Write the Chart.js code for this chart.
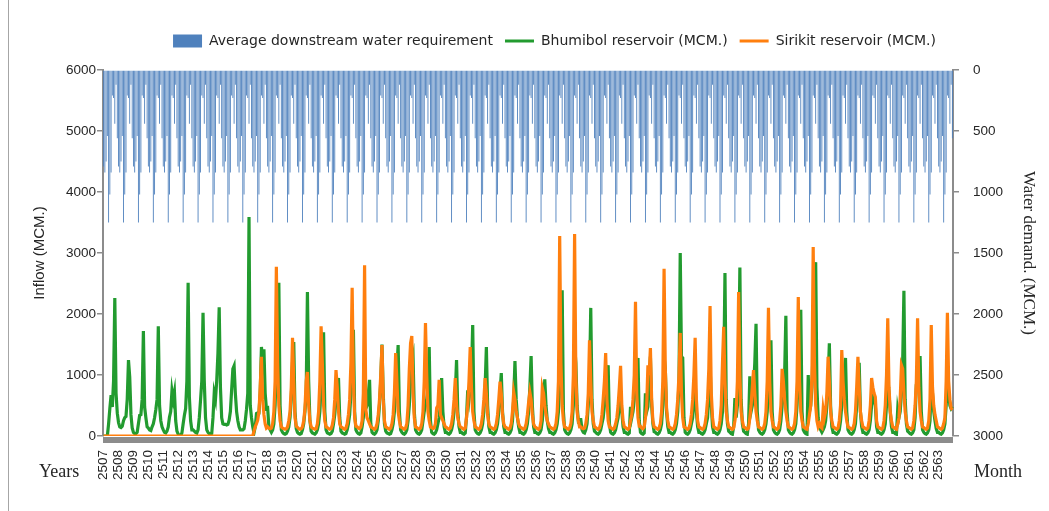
<!DOCTYPE html>
<html>
<head>
<meta charset="utf-8">
<title>Reservoir inflow and downstream water requirement</title>
<script src="https://cdn.jsdelivr.net/npm/chart.js@4.4.1/dist/chart.umd.min.js"></script>
<style>
    html, body { margin: 0; padding: 0; background: #fff; }
    #wrap { position: relative; width: 1049px; height: 511px; }
    #frame { position: absolute; left: 8px; top: 0; width: 1px; height: 511px; background: #a6a6a6; }
    canvas { position: absolute; left: 0; top: 0; }
</style>
</head>
<body>
<div id="wrap">
    <div id="frame"></div>
    <canvas id="inflowChart" width="1049" height="511"></canvas>
</div>
<script>
const years = [
    2507, 2508, 2509, 2510, 2511, 2512, 2513, 2514, 2515, 2516,
    2517, 2518, 2519, 2520, 2521, 2522, 2523, 2524, 2525, 2526,
    2527, 2528, 2529, 2530, 2531, 2532, 2533, 2534, 2535, 2536,
    2537, 2538, 2539, 2540, 2541, 2542, 2543, 2544, 2545, 2546,
    2547, 2548, 2549, 2550, 2551, 2552, 2553, 2554, 2555, 2556,
    2557, 2558, 2559, 2560, 2561, 2562, 2563
];
const months = ["Jan", "Feb", "Mar", "Apr", "May", "Jun", "Jul", "Aug", "Sep", "Oct", "Nov", "Dec"];

// average downstream requirement, same every year (MCM.)
const monthlyRequirement = [790, 840, 750, 540, 1250, 1020, 840, 210, 230, 440, 120, 560];

// monthly inflow, one row per year (MCM.)
const bhumibolInflow = [
    [0, 0, 0, 0, 200, 450, 670, 475, 900, 2260, 700, 375],
    [220, 150, 140, 160, 250, 300, 320, 600, 1245, 970, 350, 130],
    [60, 40, 40, 60, 200, 340, 350, 600, 1720, 475, 300, 150],
    [130, 100, 90, 150, 200, 300, 430, 600, 1800, 500, 250, 150],
    [100, 60, 50, 80, 150, 310, 400, 740, 600, 720, 250, 80],
    [30, 10, 0, 50, 200, 340, 450, 900, 2510, 640, 250, 100],
    [100, 80, 60, 50, 100, 300, 590, 900, 2020, 900, 300, 100],
    [60, 40, 30, 40, 300, 700, 600, 900, 1360, 2110, 800, 300],
    [200, 190, 190, 180, 190, 260, 400, 750, 1100, 1150, 700, 400],
    [250, 150, 100, 100, 100, 120, 250, 440, 700, 3590, 500, 300],
    [150, 50, 150, 370, 380, 380, 700, 1460, 1200, 1420, 700, 450],
    [460, 150, 100, 60, 100, 200, 500, 1200, 1500, 2510, 500, 100],
    [60, 40, 30, 40, 80, 150, 300, 600, 1200, 1540, 400, 120],
    [60, 40, 30, 40, 100, 200, 400, 700, 2360, 900, 250, 80],
    [50, 40, 30, 50, 100, 200, 400, 800, 1300, 1700, 400, 100],
    [50, 40, 30, 40, 80, 200, 350, 600, 800, 950, 300, 80],
    [50, 40, 30, 40, 100, 200, 350, 700, 1500, 1740, 400, 100],
    [60, 40, 30, 50, 150, 300, 700, 450, 500, 700, 920, 200],
    [60, 40, 30, 50, 100, 250, 500, 900, 1500, 700, 200, 80],
    [50, 40, 30, 40, 100, 200, 400, 700, 1100, 1490, 400, 100],
    [60, 40, 30, 50, 100, 250, 500, 900, 1200, 1300, 400, 100],
    [60, 40, 30, 50, 100, 250, 400, 500, 600, 800, 1460, 250],
    [60, 40, 30, 50, 100, 200, 300, 500, 950, 400, 150, 60],
    [60, 40, 30, 50, 100, 200, 400, 700, 1245, 400, 150, 60],
    [60, 40, 30, 50, 300, 750, 600, 800, 1000, 1820, 400, 100],
    [60, 40, 30, 50, 100, 200, 400, 800, 1460, 500, 150, 60],
    [60, 40, 30, 50, 100, 200, 400, 700, 1030, 400, 150, 60],
    [60, 40, 30, 50, 100, 250, 600, 1230, 600, 300, 150, 60],
    [60, 40, 30, 50, 100, 200, 400, 800, 1310, 500, 150, 60],
    [60, 40, 30, 50, 100, 250, 500, 930, 500, 250, 120, 60],
    [60, 40, 30, 50, 100, 200, 400, 800, 1500, 2390, 400, 100],
    [60, 40, 30, 50, 100, 200, 500, 1500, 1200, 500, 250, 270],
    [270, 100, 60, 50, 100, 200, 500, 900, 2100, 600, 200, 80],
    [60, 40, 30, 50, 100, 200, 300, 500, 800, 1000, 1160, 200],
    [60, 40, 30, 50, 100, 200, 300, 500, 700, 400, 150, 60],
    [60, 40, 30, 50, 480, 300, 400, 600, 1000, 1100, 1280, 250],
    [60, 40, 30, 50, 700, 400, 480, 900, 1300, 500, 200, 70],
    [60, 40, 30, 50, 100, 200, 500, 1300, 1100, 400, 150, 60],
    [60, 40, 30, 50, 100, 200, 400, 900, 3000, 1300, 1280, 300],
    [60, 40, 30, 50, 100, 200, 300, 600, 900, 400, 150, 60],
    [60, 40, 30, 50, 100, 200, 300, 700, 1200, 500, 150, 60],
    [60, 40, 30, 50, 100, 200, 400, 1000, 2670, 600, 200, 80],
    [60, 40, 30, 150, 620, 300, 500, 1200, 2760, 600, 200, 80],
    [60, 40, 30, 200, 980, 400, 500, 800, 1200, 1840, 400, 100],
    [60, 40, 30, 50, 100, 200, 400, 800, 1200, 1570, 400, 100],
    [60, 40, 30, 50, 100, 250, 500, 700, 1000, 1970, 400, 100],
    [60, 40, 30, 50, 100, 200, 500, 900, 1400, 2070, 400, 100],
    [60, 40, 30, 1000, 400, 500, 800, 1500, 1800, 2850, 800, 300],
    [150, 100, 60, 100, 150, 250, 500, 900, 1520, 500, 150, 60],
    [60, 40, 30, 50, 100, 250, 500, 800, 1000, 1280, 400, 100],
    [60, 40, 30, 50, 100, 200, 500, 900, 1200, 400, 150, 60],
    [60, 40, 30, 50, 100, 250, 500, 700, 600, 500, 150, 60],
    [60, 40, 30, 50, 100, 200, 500, 1000, 700, 400, 150, 60],
    [60, 40, 30, 430, 300, 400, 700, 1200, 2380, 600, 200, 80],
    [60, 40, 30, 50, 100, 300, 840, 900, 1000, 1310, 400, 100],
    [60, 40, 30, 50, 100, 250, 900, 700, 400, 250, 120, 60],
    [60, 40, 30, 50, 100, 200, 500, 900, 700, 500, 450, 480]
];

const sirikitInflow = [
    [0, 0, 0, 0, 0, 0, 0, 0, 0, 0, 0, 0],
    [0, 0, 0, 0, 0, 0, 0, 0, 0, 0, 0, 0],
    [0, 0, 0, 0, 0, 0, 0, 0, 0, 0, 0, 0],
    [0, 0, 0, 0, 0, 0, 0, 0, 0, 0, 0, 0],
    [0, 0, 0, 0, 0, 0, 0, 0, 0, 0, 0, 0],
    [0, 0, 0, 0, 0, 0, 0, 0, 0, 0, 0, 0],
    [0, 0, 0, 0, 0, 0, 0, 0, 0, 0, 0, 0],
    [0, 0, 0, 0, 0, 0, 0, 0, 0, 0, 0, 0],
    [0, 0, 0, 0, 0, 0, 0, 0, 0, 0, 0, 0],
    [0, 0, 0, 0, 0, 0, 0, 0, 0, 0, 0, 0],
    [0, 80, 150, 200, 260, 400, 800, 1300, 600, 350, 200, 130],
    [150, 130, 120, 130, 200, 400, 900, 2775, 1200, 500, 250, 150],
    [130, 120, 110, 120, 150, 250, 400, 800, 1610, 900, 300, 160],
    [140, 120, 110, 120, 150, 250, 450, 900, 1050, 500, 250, 150],
    [130, 120, 110, 120, 200, 400, 900, 1800, 1200, 500, 250, 150],
    [140, 120, 110, 120, 180, 300, 600, 1080, 800, 400, 200, 150],
    [140, 120, 110, 130, 200, 350, 600, 1200, 2430, 900, 300, 160],
    [150, 130, 120, 150, 250, 700, 2800, 430, 300, 250, 200, 150],
    [140, 120, 110, 130, 200, 350, 600, 1000, 1490, 600, 250, 150],
    [140, 120, 110, 130, 200, 350, 700, 1360, 900, 400, 250, 150],
    [140, 120, 110, 130, 200, 500, 1100, 1520, 1640, 700, 300, 150],
    [140, 120, 110, 130, 200, 400, 900, 1850, 1000, 400, 250, 150],
    [140, 120, 130, 200, 460, 500, 920, 350, 300, 250, 200, 150],
    [140, 120, 110, 130, 200, 350, 600, 950, 500, 300, 200, 150],
    [140, 120, 110, 130, 300, 500, 900, 1460, 800, 400, 250, 150],
    [140, 120, 110, 130, 200, 350, 600, 950, 700, 350, 200, 150],
    [140, 120, 110, 130, 200, 350, 600, 890, 700, 350, 200, 150],
    [140, 120, 110, 130, 200, 400, 720, 600, 400, 300, 200, 150],
    [140, 120, 110, 130, 200, 350, 550, 720, 600, 350, 200, 150],
    [140, 120, 110, 130, 250, 790, 700, 500, 350, 250, 200, 150],
    [140, 120, 110, 130, 200, 400, 900, 3280, 1200, 500, 250, 150],
    [140, 120, 110, 130, 200, 400, 1000, 3310, 1000, 400, 250, 150],
    [150, 130, 120, 130, 200, 350, 700, 1570, 900, 400, 250, 150],
    [140, 120, 110, 130, 200, 350, 600, 900, 1360, 600, 250, 150],
    [140, 120, 110, 130, 200, 300, 500, 800, 1150, 500, 250, 150],
    [140, 120, 110, 130, 250, 350, 600, 1000, 2200, 700, 300, 160],
    [160, 130, 120, 150, 300, 500, 1160, 1000, 1440, 600, 250, 150],
    [140, 120, 110, 130, 200, 400, 900, 2740, 1100, 450, 250, 150],
    [140, 120, 110, 130, 200, 350, 600, 1000, 1690, 700, 300, 150],
    [140, 120, 110, 130, 200, 350, 600, 1000, 1610, 600, 250, 150],
    [140, 120, 110, 130, 200, 350, 600, 1100, 2130, 700, 300, 150],
    [140, 120, 110, 130, 250, 500, 1200, 1790, 900, 400, 250, 150],
    [140, 120, 110, 130, 250, 400, 900, 2360, 1000, 400, 250, 150],
    [140, 120, 110, 130, 300, 500, 800, 1080, 700, 400, 250, 150],
    [140, 120, 110, 130, 200, 400, 900, 2100, 900, 400, 250, 150],
    [140, 120, 110, 130, 250, 500, 1100, 900, 600, 400, 250, 150],
    [140, 120, 110, 130, 200, 400, 900, 2280, 900, 400, 250, 150],
    [140, 120, 110, 200, 350, 500, 1000, 3100, 1200, 500, 250, 150],
    [200, 150, 130, 440, 300, 400, 700, 1300, 900, 400, 250, 150],
    [140, 120, 110, 130, 250, 500, 1410, 900, 600, 400, 250, 150],
    [140, 120, 110, 130, 200, 400, 800, 1300, 800, 400, 250, 150],
    [140, 120, 110, 130, 250, 500, 950, 800, 700, 640, 250, 150],
    [140, 120, 110, 130, 250, 500, 1000, 1930, 800, 400, 250, 150],
    [140, 120, 110, 200, 300, 600, 1160, 1100, 700, 400, 250, 150],
    [140, 120, 110, 130, 250, 500, 900, 1930, 800, 400, 250, 150],
    [140, 120, 110, 130, 250, 600, 1820, 800, 500, 350, 250, 150],
    [140, 120, 110, 130, 200, 300, 900, 2020, 900, 600, 450, 430]
];

const labels = years.flatMap(y => months.map(m => y + " " + m));
const requirement = years.flatMap(() => monthlyRequirement);
const bhumibol = bhumibolInflow.flat();
const sirikit = sirikitInflow.flat();

const textColor = "#262626";
const axisGray = "#8c8c8c";

Chart.defaults.font.family = "'Liberation Sans', Arial, sans-serif";
Chart.defaults.color = textColor;

// thick grey base under the plot, axis words, legend nudge
const extras = {
    id: "extras",
    afterLayout(chart) {
        const lg = chart.legend;
        lg.left += 30;
        lg.right += 30;
        lg.top -= 12;
        lg.bottom -= 12;
    },
    beforeDatasetsDraw(chart) {
        const { ctx, chartArea } = chart;
        ctx.save();
        ctx.fillStyle = axisGray;
        ctx.fillRect(chartArea.left, chartArea.bottom + 1, chartArea.right - chartArea.left, 6);
        ctx.restore();
    },
    afterDraw(chart) {
        const ctx = chart.ctx;
        ctx.save();
        ctx.font = "18px 'Liberation Serif'";
        ctx.fillStyle = textColor;
        ctx.textBaseline = "alphabetic";
        ctx.fillText("Years", 39, 477);
        ctx.fillText("Month", 974, 477);
        ctx.restore();
    }
};

new Chart(document.getElementById("inflowChart"), {
    data: {
        labels: labels,
        datasets: [
            {
                type: "bar",
                label: "Average downstream water requirement",
                data: requirement,
                yAxisID: "y2",
                backgroundColor: "#4F81BD",
                borderWidth: 0,
                barPercentage: 0.72,
                categoryPercentage: 1,
                pointStyle: "rect",
                order: 3
            },
            {
                type: "line",
                label: "Bhumibol reservoir (MCM.)",
                data: bhumibol,
                yAxisID: "y",
                borderColor: "#229B2F",
                backgroundColor: "#229B2F",
                pointBorderColor: "#229B2F",
                borderWidth: 3.2,
                pointRadius: 0,
                pointHoverRadius: 0,
                pointBorderWidth: 3,
                pointStyle: "line",
                tension: 0,
                order: 2
            },
            {
                type: "line",
                label: "Sirikit reservoir (MCM.)",
                data: sirikit,
                yAxisID: "y",
                borderColor: "#FF7F0E",
                backgroundColor: "#FF7F0E",
                pointBorderColor: "#FF7F0E",
                borderWidth: 3.2,
                pointRadius: 0,
                pointHoverRadius: 0,
                pointBorderWidth: 3,
                pointStyle: "line",
                tension: 0,
                order: 1
            }
        ]
    },
    options: {
        responsive: false,
        animation: false,
        events: [],
        layout: {
            padding: { top: 34, left: 0, right: 0, bottom: 0 }
        },
        plugins: {
            tooltip: { enabled: false },
            legend: {
                position: "top",
                labels: {
                    usePointStyle: true,
                    pointStyleWidth: 29,
                    boxHeight: 13,
                    padding: 12,
                    color: textColor,
                    font: { family: "'DejaVu Sans', sans-serif", size: 14 },
                    sort: (a, b) => a.datasetIndex - b.datasetIndex
                }
            }
        },
        scales: {
            x: {
                type: "category",
                offset: true,
                grid: { display: false, drawTicks: false },
                border: { display: false },
                ticks: {
                    autoSkip: false,
                    minRotation: 90,
                    maxRotation: 90,
                    padding: 14,
                    color: textColor,
                    font: { size: 13.5 },
                    callback: function(value, index) {
                        return index % 12 === 0 ? String(years[index / 12]) : "";
                    }
                },
                afterFit: function(scale) {
                    scale.height = 75;
                }
            },
            y: {
                position: "left",
                min: 0,
                max: 6000,
                grid: {
                    drawOnChartArea: false,
                    tickLength: 6,
                    color: axisGray,
                    lineWidth: 1.5
                },
                border: { color: axisGray, width: 2 },
                ticks: {
                    stepSize: 1000,
                    padding: 1,
                    color: textColor,
                    font: { size: 13.5 },
                    callback: value => String(value)
                },
                title: {
                    display: true,
                    text: "Inflow (MCM.)",
                    color: textColor,
                    font: { size: 15 },
                    padding: { top: 31, bottom: 0 }
                },
                afterFit: function(scale) {
                    scale.width = 103;
                }
            },
            y2: {
                position: "right",
                reverse: true,
                min: 0,
                max: 3000,
                grid: {
                    drawOnChartArea: false,
                    tickLength: 6,
                    color: axisGray,
                    lineWidth: 1.5
                },
                border: { color: axisGray, width: 2 },
                ticks: {
                    stepSize: 500,
                    padding: 14,
                    color: textColor,
                    font: { size: 13.5 },
                    callback: value => String(value)
                },
                title: {
                    display: true,
                    text: "Water demand. (MCM.)",
                    color: textColor,
                    font: { family: "'Liberation Serif', serif", size: 17 },
                    padding: { top: 10, bottom: 0 }
                },
                afterFit: function(scale) {
                    scale.width = 96;
                }
            }
        }
    },
    plugins: [extras]
});
</script>
</body>
</html>
